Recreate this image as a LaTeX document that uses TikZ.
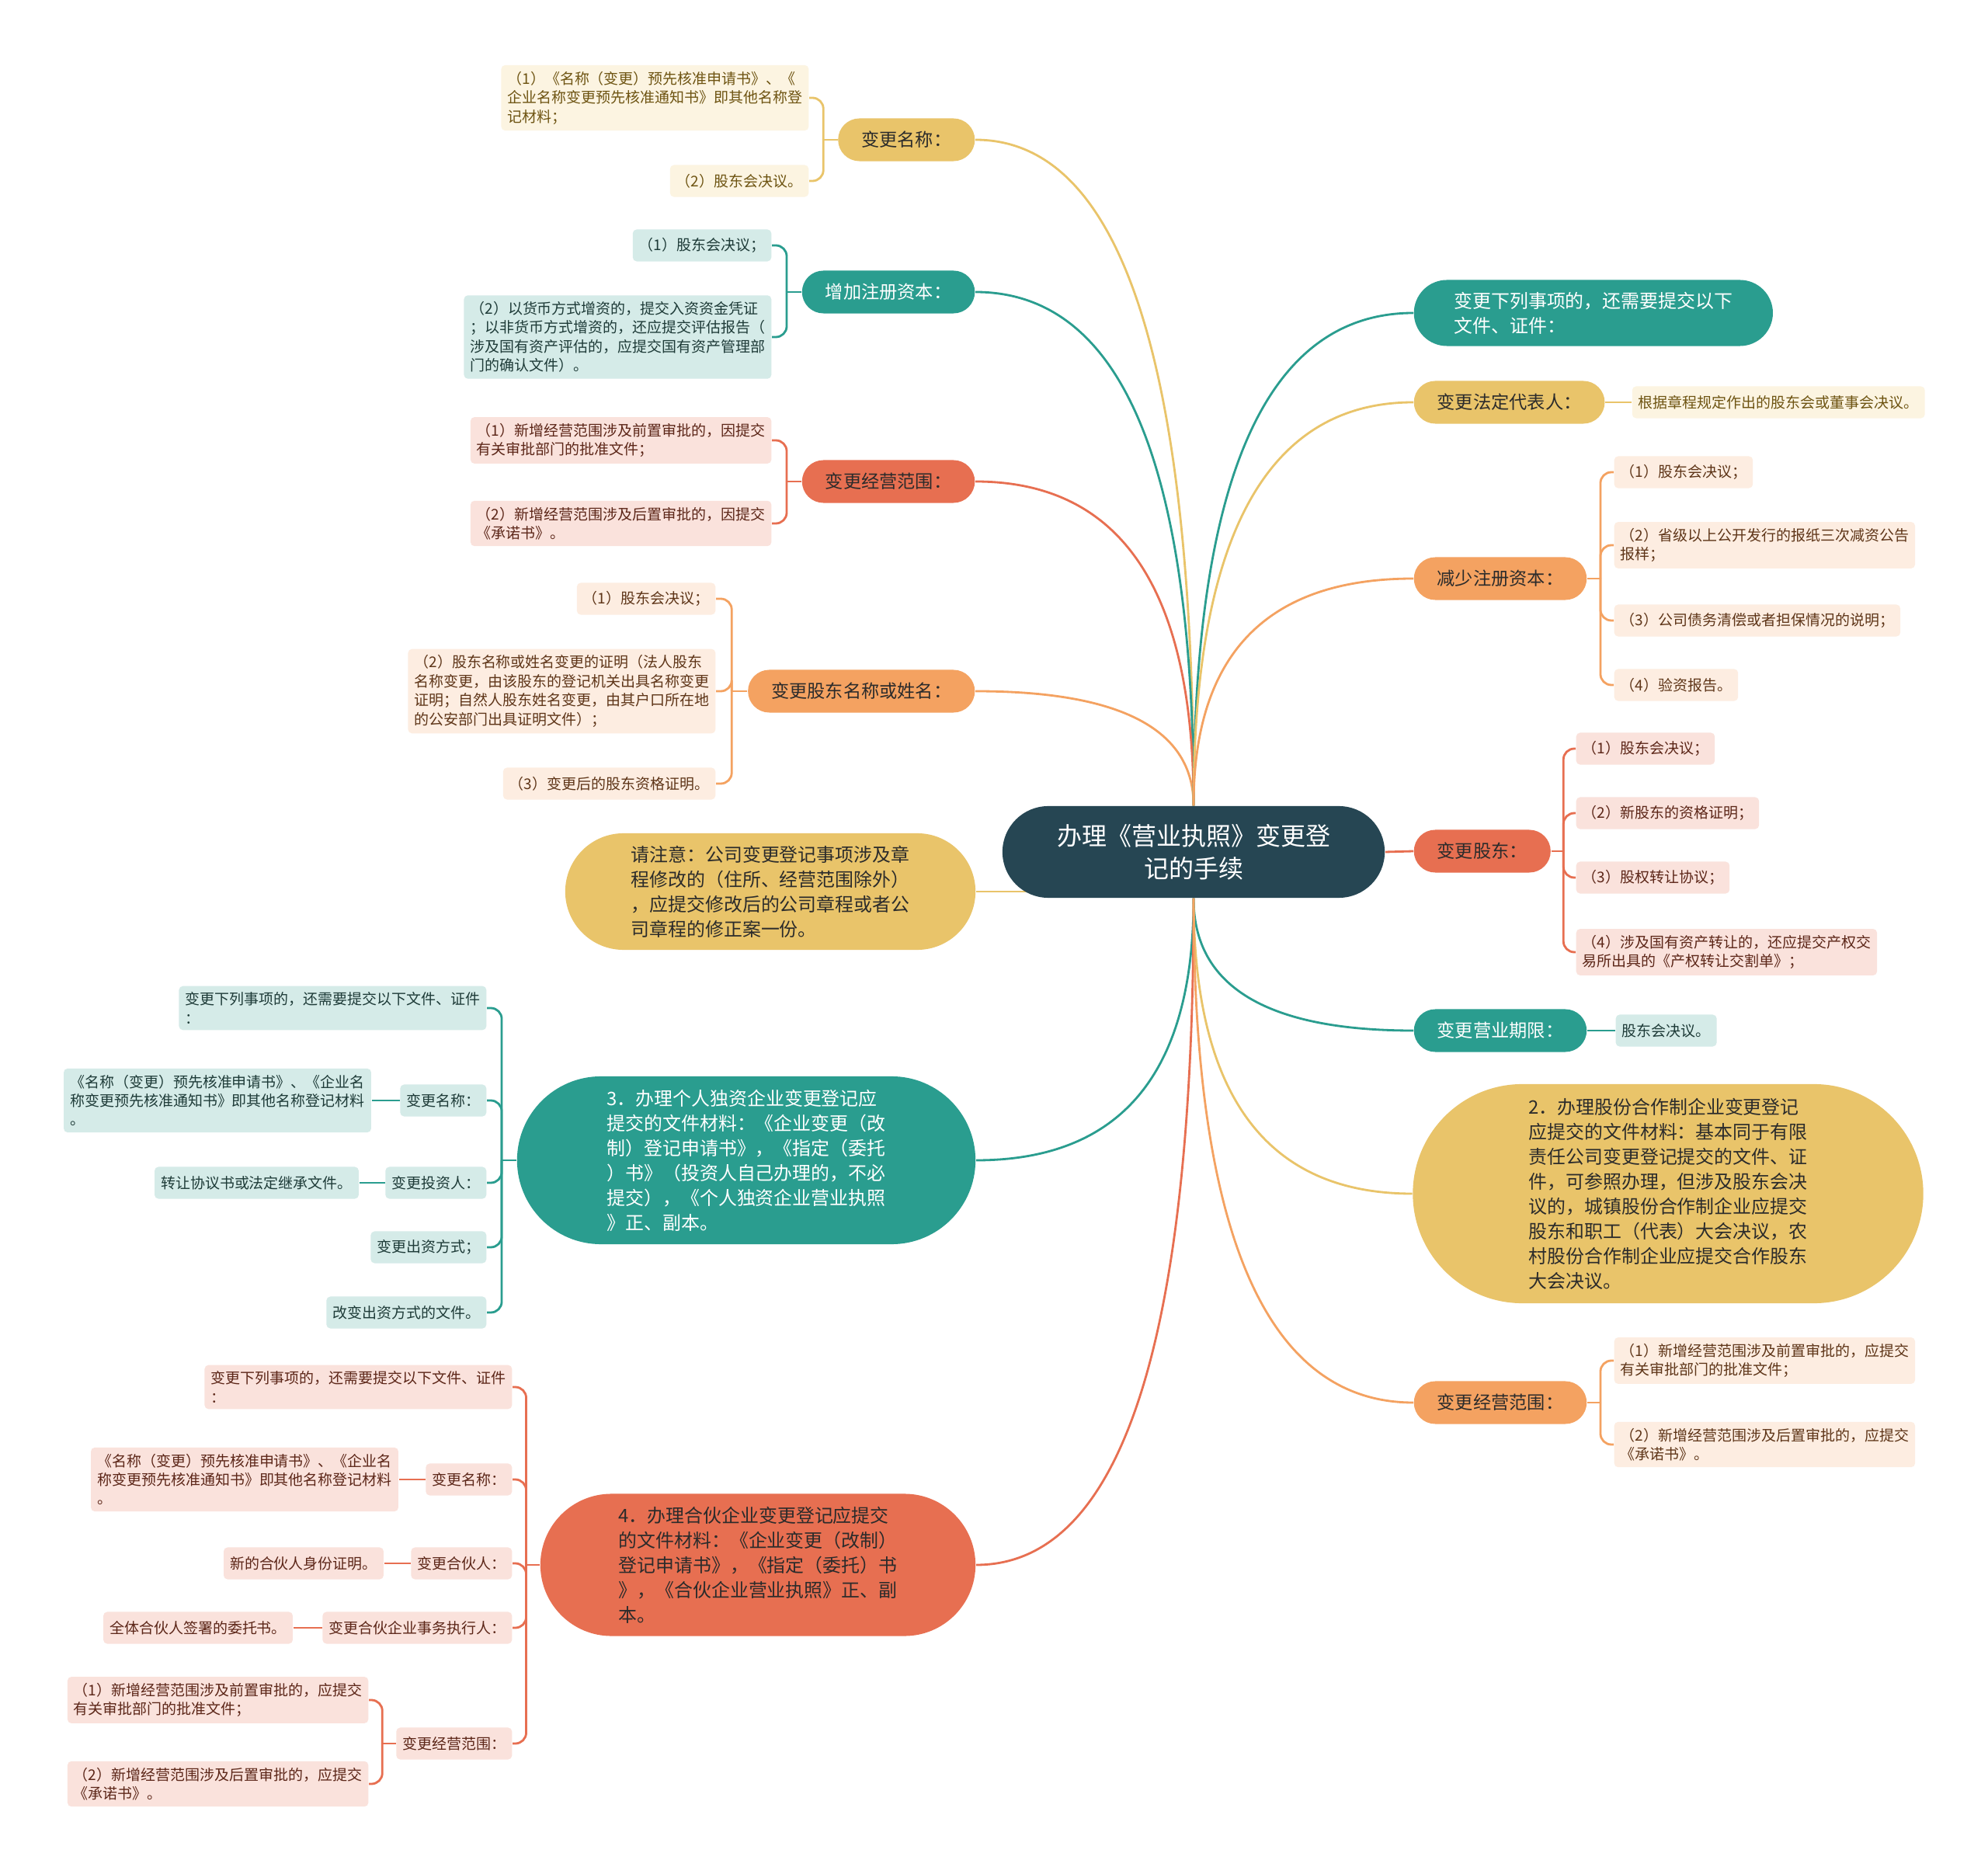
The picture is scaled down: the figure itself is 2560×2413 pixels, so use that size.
\documentclass[tikz,border=0pt]{standalone}
\usepackage{fontspec}
\setmainfont{Noto Sans CJK SC}
\usepackage{xcolor}
\usepackage{tikz}
\usetikzlibrary{positioning, calc, backgrounds}

\definecolor{rootcol}{HTML}{264653}
\definecolor{tealcol}{HTML}{2A9D8F}
\definecolor{yelcol}{HTML}{E9C46A}
\definecolor{orgcol}{HTML}{F4A261}
\definecolor{redcol}{HTML}{E76F51}
\definecolor{tealsoft}{HTML}{D5EBE8}
\definecolor{yelsoft}{HTML}{FCF4E1}
\definecolor{orgsoft}{HTML}{FDEDE1}
\definecolor{redsoft}{HTML}{FAE2DC}
\definecolor{yeltext}{HTML}{6E5412}
\definecolor{tealtext}{HTML}{1E3B38}
\definecolor{orgtext}{HTML}{5E3518}
\definecolor{redtext}{HTML}{5C2618}
\definecolor{darktext}{HTML}{2B2B2B}

\newcommand{\rootfont}{\fontsize{9.1}{11.95}\selectfont}
\newcommand{\bigfont}{\fontsize{6.8}{9.1}\selectfont}
\newcommand{\branchfont}{\fontsize{6.6}{8}\selectfont}
\newcommand{\leaffont}{\fontsize{5.4}{6.95}\selectfont}

\begin{document}
\begin{tikzpicture}[x=0.01cm, y=-0.01cm,
    rootbox/.style={rectangle, fill=rootcol, text=white, rounded corners=0.59cm, minimum width=4.92cm, minimum height=1.18cm, align=center, font=\rootfont},
    branch/.style={rectangle, rounded corners=0.275cm, minimum height=0.55cm, inner xsep=0.3cm, inner ysep=0pt, font=\branchfont},
    bignote/.style={rectangle, align=left, inner sep=0pt, font=\bigfont},
    leaf/.style={rectangle, rounded corners=0.05cm, minimum height=0.41cm, inner xsep=0.08cm, inner ysep=0.08cm, align=left, font=\leaffont},
    ybr/.style={branch, fill=yelcol, text=darktext},
    tbr/.style={branch, fill=tealcol, text=white},
    obr/.style={branch, fill=orgcol, text=darktext},
    rbr/.style={branch, fill=redcol, text=darktext},
    yleaf/.style={leaf, fill=yelsoft, text=yeltext},
    tleaf/.style={leaf, fill=tealsoft, text=tealtext},
    oleaf/.style={leaf, fill=orgsoft, text=orgtext},
    rleaf/.style={leaf, fill=redsoft, text=redtext},
    yline/.style={draw=yelcol, line width=0.8pt},
    tline/.style={draw=tealcol, line width=0.8pt},
    oline/.style={draw=orgcol, line width=0.8pt},
    rline/.style={draw=redcol, line width=0.8pt},
    curvy/.style={to path={.. controls ($(\tikztostart)!0.667!(\tikztostart |- \tikztotarget)$) and ($(\tikztotarget)!0.667!(\tikztostart |- \tikztotarget)$) .. (\tikztotarget)}},
    bracket/.style={rounded corners=0.14cm}
]
\useasboundingbox (0,0) rectangle (2560,2413);

% Root
\node[rootbox] (root) at (1537,1097) {办理《营业执照》变更登\\记的手续};

% Left branches
\node[ybr, anchor=east] (name) at (1256,180) {变更名称：};
\node[tbr, anchor=east] (addcap) at (1256,376) {增加注册资本：};
\node[rbr, anchor=east] (bizscope) at (1256,620) {变更经营范围：};
\node[obr, anchor=east] (holder) at (1256,890) {变更股东名称或姓名：};
\node[bignote, fill=yelcol, text=darktext, minimum width=5.28cm, minimum height=1.5cm, rounded corners=0.75cm] (note) at (992,1148) {请注意：公司变更登记事项涉及章\\程修改的（住所、经营范围除外）\\，应提交修改后的公司章程或者公\\司章程的修正案一份。};
\node[bignote, fill=tealcol, text=white, minimum width=5.9cm, minimum height=2.16cm, rounded corners=1.08cm] (sole) at (961,1494) {3．办理个人独资企业变更登记应\\提交的文件材料：《企业变更（改\\制）登记申请书》，《指定（委托\\）书》（投资人自己办理的，不必\\提交），《个人独资企业营业执照\\》正、副本。};
\node[bignote, fill=redcol, text=darktext, minimum width=5.6cm, minimum height=1.83cm, rounded corners=0.915cm] (partner) at (976,2015) {4．办理合伙企业变更登记应提交\\的文件材料：《企业变更（改制）\\登记申请书》，《指定（委托）书\\》，《合伙企业营业执照》正、副\\本。};

% Right branches
\node[bignote, fill=tealcol, text=white, anchor=west, minimum width=4.62cm, minimum height=0.85cm, rounded corners=0.425cm] (extra) at (1820,403) {变更下列事项的，还需要提交以下\\文件、证件：};
\node[ybr, anchor=west] (legal) at (1820,518) {变更法定代表人：};
\node[obr, anchor=west] (reduce) at (1820,745) {减少注册资本：};
\node[rbr, anchor=west] (sharechg) at (1820,1096) {变更股东：};
\node[tbr, anchor=west] (term) at (1820,1327) {变更营业期限：};
\node[bignote, fill=yelcol, text=darktext, minimum width=6.57cm, minimum height=2.82cm, rounded corners=1.41cm] (coop) at (2148,1537) {2．办理股份合作制企业变更登记\\应提交的文件材料：基本同于有限\\责任公司变更登记提交的文件、证\\件，可参照办理，但涉及股东会决\\议的，城镇股份合作制企业应提交\\股东和职工（代表）大会决议，农\\村股份合作制企业应提交合作股东\\大会决议。};
\node[obr, anchor=west] (scopeb) at (1820,1806) {变更经营范围：};

% Leaves, upper left
\node[yleaf, anchor=east] (name1) at (1042,126) {（1）《名称（变更）预先核准申请书》、《\\企业名称变更预先核准通知书》即其他名称登\\记材料；};
\node[yleaf, anchor=east] (name2) at (1042,233) {（2）股东会决议。};
\node[tleaf, anchor=east] (addcap1) at (994,316) {（1）股东会决议；};
\node[tleaf, anchor=east] (addcap2) at (994,434) {（2）以货币方式增资的，提交入资资金凭证\\；以非货币方式增资的，还应提交评估报告（\\涉及国有资产评估的，应提交国有资产管理部\\门的确认文件）。};
\node[rleaf, anchor=east] (bizscope1) at (994,567) {（1）新增经营范围涉及前置审批的，因提交\\有关审批部门的批准文件；};
\node[rleaf, anchor=east] (bizscope2) at (994,674) {（2）新增经营范围涉及后置审批的，因提交\\《承诺书》。};
\node[oleaf, anchor=east] (holder1) at (922,771) {（1）股东会决议；};
\node[oleaf, anchor=east] (holder2) at (922,890) {（2）股东名称或姓名变更的证明（法人股东\\名称变更，由该股东的登记机关出具名称变更\\证明；自然人股东姓名变更，由其户口所在地\\的公安部门出具证明文件）；};
\node[oleaf, anchor=east] (holder3) at (922,1009) {（3）变更后的股东资格证明。};

% Leaves, sole proprietorship
\node[tleaf, anchor=east] (sole1) at (627,1298) {变更下列事项的，还需要提交以下文件、证件\\：};
\node[tleaf, anchor=east] (sole2) at (627,1417) {变更名称：};
\node[tleaf, left=0.36cm of sole2] (sole2a) {《名称（变更）预先核准申请书》、《企业名\\称变更预先核准通知书》即其他名称登记材料\\。};
\node[tleaf, anchor=east] (sole3) at (627,1523) {变更投资人：};
\node[tleaf, left=0.33cm of sole3] (sole3a) {转让协议书或法定继承文件。};
\node[tleaf, anchor=east] (sole4) at (627,1606) {变更出资方式；};
\node[tleaf, anchor=east] (sole5) at (627,1690) {改变出资方式的文件。};

% Leaves, partnership
\node[rleaf, anchor=east] (partner1) at (660,1786) {变更下列事项的，还需要提交以下文件、证件\\：};
\node[rleaf, anchor=east] (partner2) at (660,1905) {变更名称：};
\node[rleaf, left=0.34cm of partner2] (partner2a) {《名称（变更）预先核准申请书》、《企业名\\称变更预先核准通知书》即其他名称登记材料\\。};
\node[rleaf, anchor=east] (partner3) at (660,2013) {变更合伙人：};
\node[rleaf, left=0.34cm of partner3] (partner3a) {新的合伙人身份证明。};
\node[rleaf, anchor=east] (partner4) at (660,2096) {变更合伙企业事务执行人：};
\node[rleaf, left=0.37cm of partner4] (partner4a) {全体合伙人签署的委托书。};
\node[rleaf, anchor=east] (partner5) at (660,2245) {变更经营范围：};
\node[rleaf, anchor=east] (partner5a) at (475,2189) {（1）新增经营范围涉及前置审批的，应提交\\有关审批部门的批准文件；};
\node[rleaf, anchor=east] (partner5b) at (475,2297) {（2）新增经营范围涉及后置审批的，应提交\\《承诺书》。};

% Leaves, right
\node[yleaf, right=0.34cm of legal] (legal1) {根据章程规定作出的股东会或董事会决议。};
\node[oleaf, anchor=west] (reduce1) at (2078,608) {（1）股东会决议；};
\node[oleaf, anchor=west] (reduce2) at (2078,702) {（2）省级以上公开发行的报纸三次减资公告\\报样；};
\node[oleaf, anchor=west] (reduce3) at (2078,799) {（3）公司债务清偿或者担保情况的说明；};
\node[oleaf, anchor=west] (reduce4) at (2078,882) {（4）验资报告。};
\node[rleaf, anchor=west] (sharechg1) at (2029,964) {（1）股东会决议；};
\node[rleaf, anchor=west] (sharechg2) at (2029,1047) {（2）新股东的资格证明；};
\node[rleaf, anchor=west] (sharechg3) at (2029,1130) {（3）股权转让协议；};
\node[rleaf, anchor=west] (sharechg4) at (2029,1226) {（4）涉及国有资产转让的，还应提交产权交\\易所出具的《产权转让交割单》；};
\node[tleaf, right=0.36cm of term] (term1) {股东会决议。};
\node[oleaf, anchor=west] (scopeb1) at (2078,1752) {（1）新增经营范围涉及前置审批的，应提交\\有关审批部门的批准文件；};
\node[oleaf, anchor=west] (scopeb2) at (2078,1860) {（2）新增经营范围涉及后置审批的，应提交\\《承诺书》。};

% Junctions
\coordinate (jname) at ($(name.west)!0.5!(name.west -| name1.east)$);
\coordinate (jaddcap) at ($(addcap.west)!0.5!(addcap.west -| addcap1.east)$);
\coordinate (jbizscope) at ($(bizscope.west)!0.5!(bizscope.west -| bizscope1.east)$);
\coordinate (jholder) at ($(holder.west)!0.5!(holder.west -| holder1.east)$);
\coordinate (jsole) at ($(sole.west)!0.5!(sole.west -| sole1.east)$);
\coordinate (jpartner) at ($(partner.west)!0.5!(partner.west -| partner1.east)$);
\coordinate (jpartner5) at ($(partner5.west)!0.5!(partner5.west -| partner5a.east)$);
\coordinate (jreduce) at ($(reduce.east)!0.5!(reduce.east -| reduce1.west)$);
\coordinate (jsharechg) at ($(sharechg.east)!0.5!(sharechg.east -| sharechg1.west)$);
\coordinate (jscopeb) at ($(scopeb.east)!0.5!(scopeb.east -| scopeb1.west)$);

% Connectors
\begin{scope}[on background layer]
\fill[white] (0,0) rectangle (2560,2413);
\draw[yline] (root.north) to[curvy] (name.east);
\draw[tline] (root.north) to[curvy] (addcap.east);
\draw[rline] (root.north) to[curvy] (bizscope.east);
\draw[oline] (root.north) to[curvy] (holder.east);
\draw[yline] (note.east) -- (note.east -| root.center);
\draw[tline] (root.south) to[curvy] (sole.east);
\draw[rline] (root.south) to[curvy] (partner.east);
\draw[tline] (root.north) to[curvy] (extra.west);
\draw[yline] (root.north) to[curvy] (legal.west);
\draw[oline] (root.north) to[curvy] (reduce.west);
\draw[rline] (root.east) -- (sharechg.west);
\draw[tline] (root.south) to[curvy] (term.west);
\draw[yline] (root.south) to[curvy] (coop.west);
\draw[oline] (root.south) to[curvy] (scopeb.west);

\draw[yline] (name.west) -- (jname);
\foreach \k in {1,2} \draw[yline, bracket] (jname) |- (name\k.east);
\draw[tline] (addcap.west) -- (jaddcap);
\foreach \k in {1,2} \draw[tline, bracket] (jaddcap) |- (addcap\k.east);
\draw[rline] (bizscope.west) -- (jbizscope);
\foreach \k in {1,2} \draw[rline, bracket] (jbizscope) |- (bizscope\k.east);
\draw[oline] (holder.west) -- (jholder);
\foreach \k in {1,2,3} \draw[oline, bracket] (jholder) |- (holder\k.east);

\draw[tline] (sole.west) -- (jsole);
\foreach \k in {1,...,5} \draw[tline, bracket] (jsole) |- (sole\k.east);
\draw[tline] (sole2.west) -- (sole2a.east);
\draw[tline] (sole3.west) -- (sole3a.east);

\draw[rline] (partner.west) -- (jpartner);
\foreach \k in {1,...,5} \draw[rline, bracket] (jpartner) |- (partner\k.east);
\draw[rline] (partner2.west) -- (partner2a.east);
\draw[rline] (partner3.west) -- (partner3a.east);
\draw[rline] (partner4.west) -- (partner4a.east);
\draw[rline] (partner5.west) -- (jpartner5);
\draw[rline, bracket] (jpartner5) |- (partner5a.east);
\draw[rline, bracket] (jpartner5) |- (partner5b.east);

\draw[yline] (legal.east) -- (legal1.west);
\draw[oline] (reduce.east) -- (jreduce);
\foreach \k in {1,...,4} \draw[oline, bracket] (jreduce) |- (reduce\k.west);
\draw[rline] (sharechg.east) -- (jsharechg);
\foreach \k in {1,...,4} \draw[rline, bracket] (jsharechg) |- (sharechg\k.west);
\draw[tline] (term.east) -- (term1.west);
\draw[oline] (scopeb.east) -- (jscopeb);
\foreach \k in {1,2} \draw[oline, bracket] (jscopeb) |- (scopeb\k.west);
\end{scope}

\end{tikzpicture}
\end{document}
